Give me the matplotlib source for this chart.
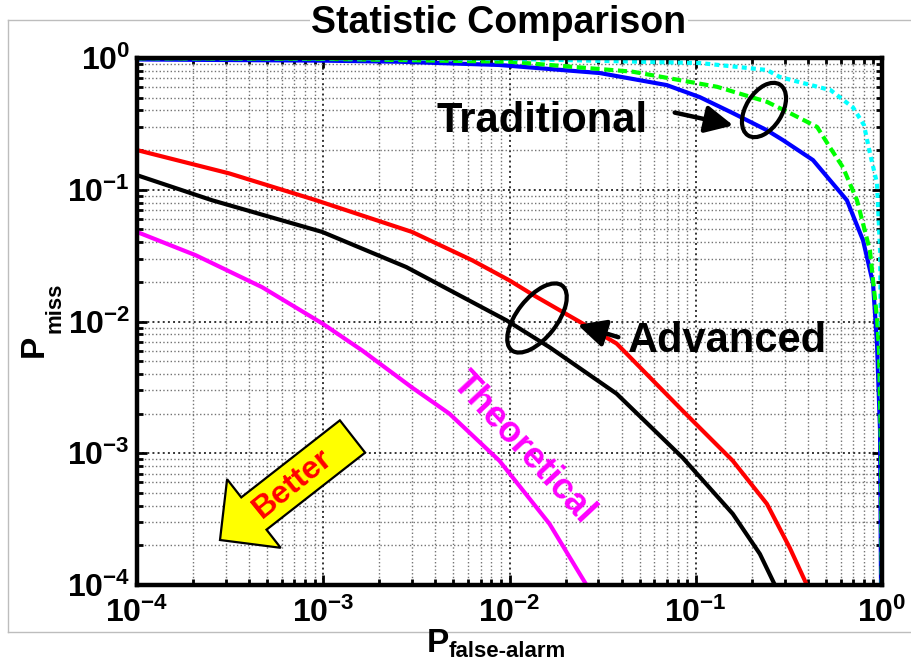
import matplotlib
matplotlib.use("Agg")
import matplotlib.pyplot as plt
from matplotlib.patches import Ellipse, Polygon, FancyArrowPatch
from matplotlib.lines import Line2D
from matplotlib.ticker import FixedLocator, FuncFormatter, LogLocator, NullFormatter
import numpy as np

plt.rcParams['font.family'] = ['Liberation Sans', 'DejaVu Sans']
plt.rcParams['font.weight'] = 'bold'

# ---------------- data ----------------
red_x = [1e-4, 3.13e-4, 9.16e-4, 3.0e-3, 6.32e-3, 1.0e-2, 1.33e-2, 2.47e-2, 3.76e-2,
         8.51e-2, 0.158, 0.241, 0.320, 0.395]
red_y = [0.200, 0.133, 0.0832, 0.0478, 0.0291, 0.0205, 0.0160, 0.00966, 0.00680,
         0.00210, 0.000877, 0.000413, 0.000191, 0.0001]

black_x = [1e-4, 2.53e-4, 9.89e-4, 2.79e-3, 9.64e-3, 1.64e-2, 3.76e-2, 8.51e-2, 0.158, 0.221, 0.266]
black_y = [0.129, 0.0832, 0.0478, 0.0259, 0.0102, 0.00638, 0.00283, 0.000924, 0.000347, 0.000172, 0.0001]

mag_x = [1e-4, 2.07e-4, 4.70e-4, 9.89e-4, 1.62e-3, 3.0e-3, 4.75e-3, 8.83e-3, 1.64e-2, 2.59e-2]
mag_y = [0.0478, 0.0318, 0.0182, 0.00966, 0.00602, 0.00315, 0.00200, 0.000877, 0.000291, 0.0001]

blue_x = [1e-4, 1e-3, 2.56e-3, 8.83e-3, 3.05e-2, 6.98e-2, 0.105, 0.158, 0.241, 0.294, 0.426,
          0.648, 0.791, 0.895, 0.940, 0.976, 0.988]
blue_y = [0.975, 0.955, 0.937, 0.885, 0.769, 0.623, 0.505, 0.382, 0.283, 0.238, 0.168,
          0.0832, 0.0413, 0.0195, 0.0068, 0.00148, 0.0001]

green_x = [1e-4, 1e-3, 1e-2, 4.58e-2, 0.130, 0.241, 0.320, 0.448, 0.525, 0.617, 0.734, 0.861,
           0.940, 0.964, 0.988, 0.997]
green_y = [0.995, 0.985, 0.937, 0.787, 0.605, 0.465, 0.382, 0.300, 0.210, 0.148, 0.0832, 0.0347,
           0.0107, 0.00602, 0.00104, 0.0001]

cyan_x = [1e-4, 1e-2, 0.105, 0.241, 0.283, 0.53, 0.70, 0.80, 0.861, 0.940, 0.976, 0.995, 0.999]
cyan_y = [0.999, 0.985, 0.916, 0.811, 0.717, 0.57, 0.42, 0.31, 0.19, 0.112, 0.0347, 0.002, 0.0001]

decade_ticks = [1e-4, 1e-3, 1e-2, 1e-1, 1e0]
title = "Statistic Comparison"

# ---------------- figure ----------------
W, H = 911, 662
fig = plt.figure(figsize=(W / 100, H / 100), dpi=100)
L, R, T, B = 137, 882, 58, 585
ax = fig.add_axes([L / W, 1 - B / H, (R - L) / W, (B - T) / H])

def P(x, y):
    """reference pixel (from top-left) -> inches for dpi_scale_trans"""
    return (x / 100, (H - y) / 100)

tr = fig.dpi_scale_trans

ax.set_xscale('log')
ax.set_yscale('log')
ax.set_xlim(1e-4, 1)
ax.set_ylim(1e-4, 1)

lw = 3.0
ax.plot(blue_x, blue_y, color='#0000ff', lw=lw, zorder=3)
ax.plot(green_x, green_y, color='#00ff00', lw=lw, zorder=4, dashes=(2.2, 1.1))
ax.plot(cyan_x, cyan_y, color='#00ffff', lw=lw, zorder=4, dashes=(1.2, 1.0))
ax.plot(red_x, red_y, color='#ff0000', lw=lw, zorder=3)
ax.plot(black_x, black_y, color='black', lw=lw, zorder=3)
ax.plot(mag_x, mag_y, color='#ff00ff', lw=lw, zorder=3)

# grid & ticks
ax.xaxis.set_major_locator(FixedLocator(decade_ticks))
ax.yaxis.set_major_locator(FixedLocator(decade_ticks))
ax.xaxis.set_minor_locator(LogLocator(base=10, subs=np.arange(2, 10), numticks=20))
ax.yaxis.set_minor_locator(LogLocator(base=10, subs=np.arange(2, 10), numticks=20))
ax.xaxis.set_minor_formatter(NullFormatter())
ax.yaxis.set_minor_formatter(NullFormatter())
fmt = FuncFormatter(lambda v, p: r'$\mathregular{10^{%d}}$' % int(round(np.log10(v))))
ax.xaxis.set_major_formatter(fmt)
ax.yaxis.set_major_formatter(fmt)

ax.grid(True, which='major', ls=':', color='0.2', lw=1.4)
ax.grid(True, which='minor', ls=':', color='0.45', lw=1.0)
ax.set_axisbelow(True)

ax.tick_params(which='both', direction='in', top=True, right=True, width=2)
ax.tick_params(which='major', length=7)
ax.tick_params(which='minor', length=4)
ax.tick_params(axis='x', which='major', pad=9, labelsize=23)
ax.tick_params(axis='y', which='major', pad=5, labelsize=23)
for lab in ax.get_xticklabels() + ax.get_yticklabels():
    lab.set_fontweight('bold')
for s in ax.spines.values():
    s.set_linewidth(3.2)
    s.set_zorder(6)

# ---------------- outer gray frame ----------------
fcol = '#bdbdbd'
fig.add_artist(Line2D([8 / W, 1.0], [1 - 20 / H, 1 - 20 / H], transform=fig.transFigure, color=fcol, lw=1, zorder=0))
fig.add_artist(Line2D([8 / W, 8 / W], [1 - 20 / H, 1 - 632 / H], transform=fig.transFigure, color=fcol, lw=1, zorder=0))
fig.add_artist(Line2D([8 / W, 1.0], [1 - 632 / H, 1 - 632 / H], transform=fig.transFigure, color=fcol, lw=1, zorder=0))

# ---------------- title & axis labels ----------------
fig.text(499 / W, 1 - 33 / H, title, ha='center', va='baseline', fontsize=27, fontweight='bold',
         bbox=dict(facecolor='white', edgecolor='none', pad=1), zorder=2)

fig.text(427 / W, 1 - 652 / H, 'P', ha='left', va='baseline', fontsize=24, fontweight='bold')
fig.text(449 / W, 1 - 657 / H, 'false-alarm', ha='left', va='baseline', fontsize=16, fontweight='bold')

fig.text(43 / W, 1 - 357 / H, 'P', ha='left', va='baseline', rotation=90, rotation_mode='anchor',
         fontsize=24, fontweight='bold')
fig.text(61 / W, 1 - 333 / H, 'miss', ha='left', va='baseline', rotation=90, rotation_mode='anchor',
         fontsize=16, fontweight='bold')

# ---------------- annotations ----------------
ax.text(*P(542, 132), 'Traditional', transform=tr, ha='center', va='baseline', fontsize=30,
        fontweight='bold', zorder=8)
ax.text(*P(728, 352), 'Advanced', transform=tr, ha='center', va='baseline', fontsize=30,
        fontweight='bold', zorder=8)
ax.text(*P(523, 448), 'Theoretical', transform=tr, ha='center', va='center', rotation=-47,
        rotation_mode='anchor', fontsize=26, fontweight='bold', color='#ff00ff', zorder=8)

for (cx, cy, w, h, ang) in [(764, 110, 60, 36, 58), (537, 318, 82, 40, 52)]:
    e = Ellipse(P(cx, cy), w / 100, h / 100, angle=ang, transform=tr, fill=False,
                edgecolor='black', lw=3, zorder=9)
    ax.add_artist(e)
    e.set_clip_on(False)

for (x0, y0, x1, y1) in [(672, 112, 736, 126), (621, 338, 575, 324)]:
    a = FancyArrowPatch(P(x0, y0), P(x1, y1), transform=tr,
                        arrowstyle='-|>,head_length=0.65,head_width=0.32',
                        mutation_scale=26, lw=3.2, color='black', zorder=9)
    ax.add_artist(a)
    a.set_clip_on(False)

# "Better" block arrow
tail = np.array([352.5, 436.5])
tip = np.array([220.0, 540.0])
u = (tip - tail) / np.linalg.norm(tip - tail)
n = np.array([u[1], -u[0]])
hw, hhw, hl = 20.5, 43.5, 43.0
base = tip - u * hl
pts = [tail + n * hw, base + n * hw, base + n * hhw, tip, base - n * hhw, base - n * hw, tail - n * hw]
pts_in = [P(p[0], p[1]) for p in pts]
poly = Polygon(pts_in, closed=True, transform=tr, facecolor='#ffff00', edgecolor='black', lw=1.6, zorder=7)
ax.add_artist(poly)
ax.text(*P(293, 484), 'Better', transform=tr, ha='center', va='center', rotation=39,
        rotation_mode='anchor', fontsize=23, fontweight='bold', color='#ff0000', zorder=8)

fig.savefig('out.png', dpi=100)
